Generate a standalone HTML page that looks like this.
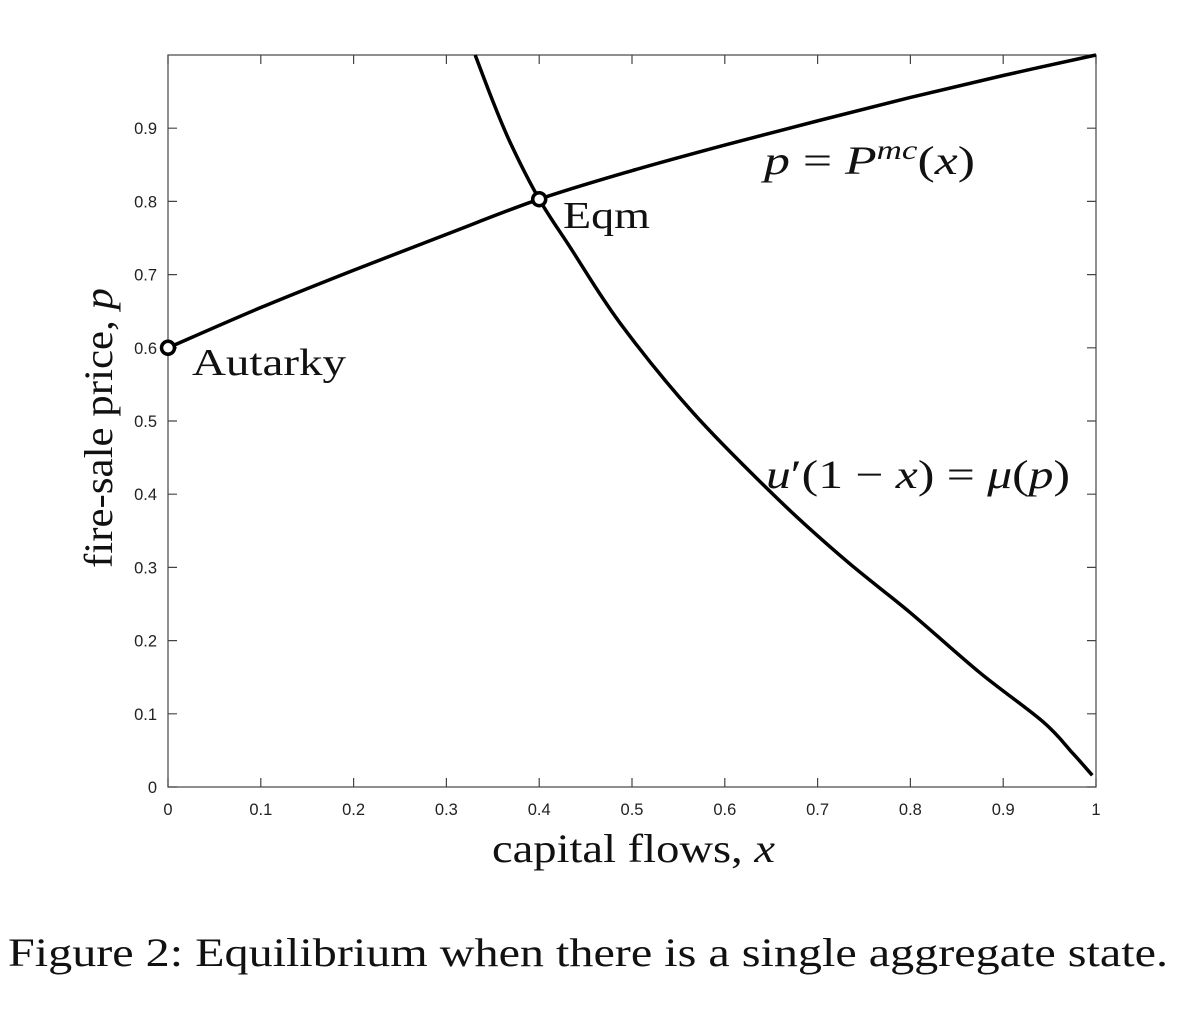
<!DOCTYPE html>
<html><head><meta charset="utf-8"><style>
body{margin:0;background:#fff;}
svg{display:block;}
.tick{font-family:"Liberation Sans",Arial,sans-serif;font-size:16.5px;fill:#222;}
.ser{font-family:"Liberation Serif","DejaVu Serif",serif;fill:#111;}
</style></head><body>
<svg id="chart" width="1178" height="1012" viewBox="0 0 1178 1012">
<rect x="168" y="55" width="928" height="732" fill="none" stroke="#444" stroke-width="1.2"/>
<g id="ticks"></g>
<g id="series"></g>
<text class="ser" x="492" y="862" font-size="40" textLength="283" lengthAdjust="spacingAndGlyphs">capital flows, <tspan font-style="italic">x</tspan></text>
<text class="ser" x="112" y="568" font-size="40" textLength="280" lengthAdjust="spacingAndGlyphs" transform="rotate(-90 112 568)">fire-sale price, <tspan font-style="italic">p</tspan></text>
<text class="ser" x="192" y="375" font-size="38" textLength="154" lengthAdjust="spacingAndGlyphs">Autarky</text>
<text class="ser" x="563" y="228" font-size="38" textLength="87" lengthAdjust="spacingAndGlyphs">Eqm</text>
<text class="ser" x="764" y="174" font-size="40" textLength="211" lengthAdjust="spacingAndGlyphs"><tspan font-style="italic">p</tspan> = <tspan font-style="italic">P</tspan><tspan font-style="italic" font-size="27" dy="-15">mc</tspan><tspan dy="15">(</tspan><tspan font-style="italic">x</tspan>)</text>
<text class="ser" x="766" y="488" font-size="40" textLength="304" lengthAdjust="spacingAndGlyphs"><tspan font-style="italic">u</tspan>′(1 − <tspan font-style="italic">x</tspan>) = <tspan font-style="italic">μ</tspan>(<tspan font-style="italic">p</tspan>)</text>
<text class="ser" x="8" y="966" font-size="40" textLength="1160" lengthAdjust="spacingAndGlyphs">Figure 2: Equilibrium when there is a single aggregate state.</text>
</svg>
<script>
const xTicks=[0,0.1,0.2,0.3,0.4,0.5,0.6,0.7,0.8,0.9,1];
const yTicks=[0,0.1,0.2,0.3,0.4,0.5,0.6,0.7,0.8,0.9];
const xTickLabels=["0","0.1","0.2","0.3","0.4","0.5","0.6","0.7","0.8","0.9","1"];
const yTickLabels=["0","0.1","0.2","0.3","0.4","0.5","0.6","0.7","0.8","0.9"];
const pmcX=[0,0.1,0.2,0.3,0.4,0.5,0.6,0.7,0.8,0.9,1];
const pmcY=[0.6,0.655,0.706,0.755,0.803,0.842,0.877,0.91,0.942,0.972,1.0];
const focX=[0.331,0.35,0.37,0.4,0.433,0.487,0.566,0.66,0.73,0.8,0.875,0.943,0.975,0.996];
const focY=[1.0,0.937,0.877,0.803,0.738,0.634,0.511,0.39,0.31,0.238,0.156,0.089,0.046,0.016];
const pointsX=[0,0.4];
const pointsY=[0.6,0.803];
const pointNames=['autarky-point','equilibrium-point'];
const NS='http://www.w3.org/2000/svg';
const sx=v=>168+v*928, sy=v=>787-v*732;
const tg=document.getElementById('ticks'), sg=document.getElementById('series');
function mk(tag,attrs,parent){const e=document.createElementNS(NS,tag);for(const k in attrs)e.setAttribute(k,attrs[k]);parent.appendChild(e);return e;}
xTicks.forEach((v,i)=>{
  const l=mk('path',{d:`M${sx(v)},787v-9M${sx(v)},55v9`,stroke:'#444','stroke-width':1.2},tg);
  
  
  const t=mk('text',{x:sx(v),y:815,'text-anchor':'middle',class:'tick'},tg);t.textContent=xTickLabels[i];
  
  
});
yTicks.forEach((v,i)=>{
  const l=mk('path',{d:`M168,${sy(v)}h9M1096,${sy(v)}h-9`,stroke:'#444','stroke-width':1.2},tg);
  
  
  const t=mk('text',{x:157,y:sy(v)+6,'text-anchor':'end',class:'tick'},tg);t.textContent=yTickLabels[i];
  
  
});
function smooth(xs,ys){
  const p=xs.map((x,i)=>[sx(x),sy(ys[i])]);let d=`M${p[0][0]},${p[0][1]}`;
  for(let i=0;i<p.length-1;i++){const p0=p[i-1]||p[i],p1=p[i],p2=p[i+1],p3=p[i+2]||p2;
    d+=`C${p1[0]+(p2[0]-p0[0])/6},${p1[1]+(p2[1]-p0[1])/6} ${p2[0]-(p3[0]-p1[0])/6},${p2[1]-(p3[1]-p1[1])/6} ${p2[0]},${p2[1]}`;}
  return d;}
const c1=mk('path',{d:smooth(pmcX,pmcY),fill:'none',stroke:'#000','stroke-width':3.5},sg);


const c2=mk('path',{d:smooth(focX,focY),fill:'none',stroke:'#000','stroke-width':3.5},sg);


pointsX.forEach((v,i)=>{
  const c=mk('circle',{cx:sx(v),cy:sy(pointsY[i]),r:6.5,fill:'#fff',stroke:'#000','stroke-width':3.5},sg);
  
  
});
</script>
</body></html>
